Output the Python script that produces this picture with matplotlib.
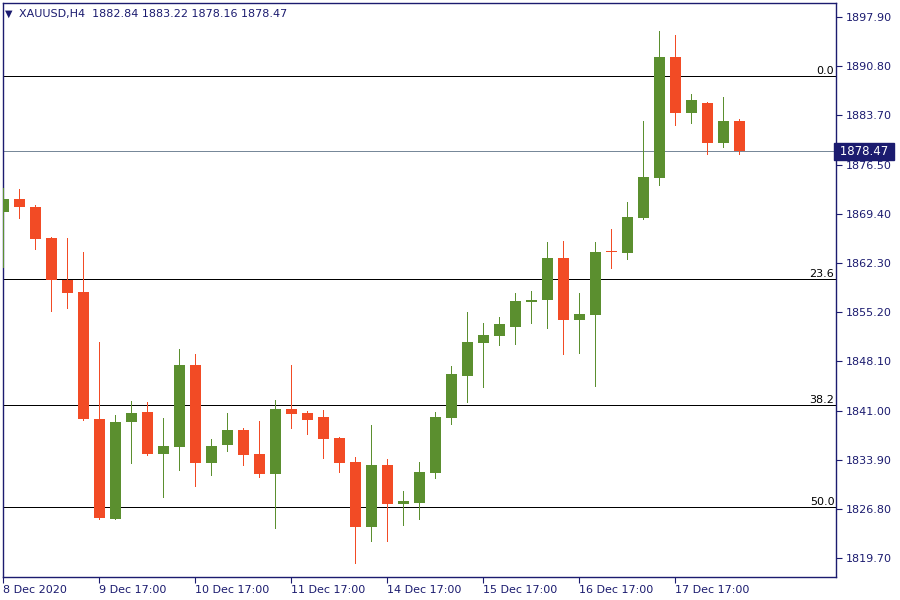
import matplotlib
matplotlib.use("Agg")
import matplotlib.pyplot as plt
import numpy as np

# ---- data (H4 XAUUSD candles) ----
opens = [1869.76, 1871.59, 1870.44, 1865.95, 1859.84, 1858.15, 1839.79, 1825.38, 1839.36, 1840.80,
         1834.73, 1835.74, 1847.60, 1833.47, 1836.03, 1838.20, 1834.73, 1831.84, 1841.24, 1840.66,
         1840.08, 1837.04, 1833.57, 1824.18, 1833.14, 1827.50, 1827.65, 1831.98, 1839.93, 1846.01,
         1850.78, 1851.79, 1853.09, 1856.70, 1856.99, 1863.06, 1854.10, 1854.82, 1863.98, 1863.79,
         1868.85, 1874.63, 1892.12, 1884.02, 1885.47, 1879.69, 1882.84]
highs = [1873.14, 1873.04, 1870.77, 1866.10, 1865.95, 1863.93, 1850.92, 1840.37, 1842.44, 1842.29,
         1839.93, 1849.91, 1849.19, 1836.90, 1840.66, 1838.49, 1839.50, 1842.54, 1847.60, 1840.95,
         1841.09, 1837.19, 1834.30, 1838.92, 1834.01, 1829.38, 1833.57, 1840.80, 1847.45, 1855.26,
         1853.67, 1854.53, 1858.00, 1858.29, 1865.38, 1865.52, 1858.00, 1865.38, 1867.25, 1871.16,
         1882.87, 1895.88, 1895.30, 1886.77, 1885.66, 1886.34, 1883.22]
lows = [1861.81, 1868.89, 1864.41, 1855.45, 1855.88, 1839.70, 1825.40, 1825.30, 1833.47, 1834.63,
        1828.56, 1832.42, 1830.15, 1831.70, 1835.21, 1833.14, 1831.41, 1824.03, 1838.49, 1837.62,
        1834.15, 1832.13, 1818.97, 1822.16, 1822.16, 1824.47, 1825.34, 1831.26, 1839.07, 1842.25,
        1844.42, 1850.49, 1850.63, 1853.67, 1852.94, 1849.19, 1849.37, 1844.60, 1861.62, 1862.92,
        1868.75, 1873.62, 1882.29, 1882.58, 1878.10, 1879.11, 1878.16]
closes = [1871.59, 1870.48, 1865.85, 1859.84, 1858.05, 1839.83, 1825.52, 1839.36, 1840.66, 1834.73,
          1835.89, 1847.60, 1833.47, 1835.89, 1838.20, 1834.59, 1831.84, 1841.24, 1840.51, 1839.65,
          1836.90, 1833.43, 1824.18, 1833.14, 1827.50, 1827.94, 1832.13, 1840.08, 1846.30, 1850.92,
          1851.93, 1853.52, 1856.85, 1856.99, 1863.06, 1854.10, 1854.97, 1863.93, 1863.88, 1868.99,
          1874.77, 1892.12, 1884.02, 1885.90, 1879.69, 1882.84, 1878.47]

time_labels = ["8 Dec 2020", "9 Dec 17:00", "10 Dec 17:00", "11 Dec 17:00",
               "14 Dec 17:00", "15 Dec 17:00", "16 Dec 17:00", "17 Dec 17:00"]
time_label_bars = [0, 6, 12, 18, 24, 30, 36, 42]

price_ticks = [1897.90, 1890.80, 1883.70, 1876.50, 1869.40, 1862.30,
               1855.20, 1848.10, 1841.00, 1833.90, 1826.80, 1819.70]

fib_high = 1889.37
fib_low = 1764.77
fib_levels = [0.0, 23.6, 38.2, 50.0]

last_price = 1878.47
symbol = "XAUUSD,H4"

# ---- style ----
UP = "#5b8f2f"
DOWN = "#f24b25"
NAVY = "#1b1b6f"
PX = 72.0 / 100.0  # one pixel in points

fig = plt.figure(figsize=(9, 6), dpi=100)
ax = fig.add_axes([2.5 / 900, 23 / 600, 833.5 / 900, 574 / 600])

x = np.arange(len(opens))
o = np.array(opens); h = np.array(highs); l = np.array(lows); c = np.array(closes)
up = c >= o
colors = np.where(up, UP, DOWN)

ax.vlines(x, l, h, colors=colors, linewidth=1.0 * PX, zorder=3, antialiased=False)
body_bottom = np.minimum(o, c)
body_h = np.maximum(np.abs(c - o), 0.15)
ax.bar(x, body_h, bottom=body_bottom, width=0.69, color=colors, linewidth=0, zorder=4)

# fibonacci levels
for lev in fib_levels:
    price = fib_high - (fib_high - fib_low) * lev / 100.0
    ax.axhline(price, color="black", linewidth=1.0 * PX, zorder=2, antialiased=False)
    ax.text(0.998, price, f"{lev:.1f}", transform=ax.get_yaxis_transform(),
            ha="right", va="bottom", fontsize=8, color="black", zorder=5)

# current price line
ax.axhline(last_price, color="#778899", linewidth=1.0 * PX, zorder=2, antialiased=False)

ax.set_xlim(-0.05, 52.04)
ax.set_ylim(1816.95, 1899.92)

ax.yaxis.tick_right()
ax.set_yticks(price_ticks)
ax.set_yticklabels([f"{v:.2f}" for v in price_ticks])
ax.tick_params(axis="y", colors=NAVY, labelcolor=NAVY, labelsize=8, length=4, width=0.8, pad=3)

ax.set_xticks(time_label_bars)
ax.set_xticklabels(time_labels)
ax.tick_params(axis="x", colors=NAVY, labelcolor=NAVY, labelsize=8, length=4, width=0.8, pad=2)
for lab in ax.get_xticklabels():
    lab.set_horizontalalignment("left")

for sp in ax.spines.values():
    sp.set_color(NAVY)
    sp.set_linewidth(1.0)

# price box on axis
ax.text(1.0, last_price, f" {last_price:.2f} ", transform=ax.get_yaxis_transform(),
        ha="left", va="center", fontsize=8.5, color="white", zorder=10,
        bbox=dict(boxstyle="square,pad=0.2", facecolor=NAVY, edgecolor=NAVY),
        clip_on=False)

# header
fig.text(5 / 900, 1 - 14 / 600, "\u25BC", ha="left", va="center", fontsize=7, color=NAVY)
fig.text(19 / 900, 1 - 14 / 600,
         f"{symbol}  {o[-1]:.2f} {h[-1]:.2f} {l[-1]:.2f} {c[-1]:.2f}",
         ha="left", va="center", fontsize=8, color=NAVY)

fig.savefig("out.png", dpi=100, facecolor="white")
